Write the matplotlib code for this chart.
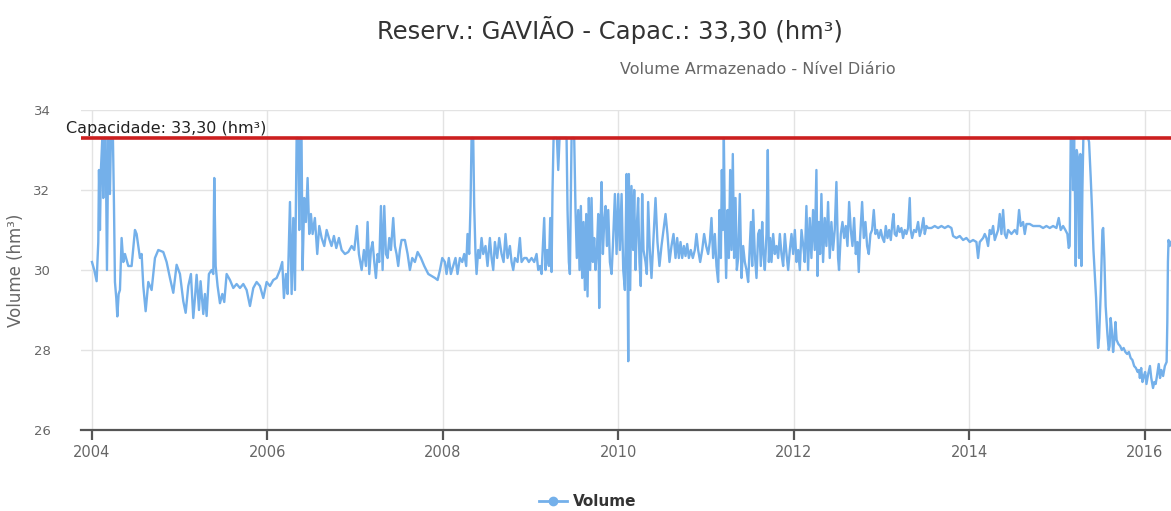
import matplotlib
matplotlib.use("Agg")
import matplotlib.pyplot as plt
from matplotlib.lines import Line2D
from matplotlib.transforms import blended_transform_factory

# Reservoir daily stored volume (decimal year, hm³)
anos = [
    # 2004 - 2005
    2004.000, 2004.026, 2004.053, 2004.072, 2004.080, 2004.091, 2004.102, 2004.118,
    2004.129, 2004.140, 2004.156, 2004.171, 2004.186, 2004.205, 2004.216, 2004.239,
    2004.251, 2004.262, 2004.277, 2004.289, 2004.304, 2004.319, 2004.338, 2004.357,
    2004.376, 2004.414, 2004.452, 2004.490, 2004.509, 2004.547, 2004.566, 2004.585,
    2004.612, 2004.642, 2004.680, 2004.718, 2004.756, 2004.813, 2004.851, 2004.889,
    2004.927, 2004.965, 2005.003, 2005.041, 2005.068, 2005.098, 2005.128, 2005.155,
    2005.174, 2005.193, 2005.220, 2005.238, 2005.269, 2005.288, 2005.307, 2005.333,
    2005.364, 2005.383, 2005.394, 2005.410, 2005.432, 2005.459, 2005.486, 2005.508,
    2005.535, 2005.573, 2005.611, 2005.649, 2005.687, 2005.725, 2005.763, 2005.801,
    2005.839, 2005.877, 2005.915, 2005.953, 2005.991,
    # 2006 - 2007
    2006.029, 2006.067, 2006.105, 2006.143, 2006.169, 2006.188, 2006.211, 2006.230,
    2006.257, 2006.276, 2006.295, 2006.314, 2006.333, 2006.352, 2006.363, 2006.374,
    2006.389, 2006.401, 2006.420, 2006.439, 2006.458, 2006.477, 2006.496, 2006.515,
    2006.541, 2006.568, 2006.591, 2006.618, 2006.648, 2006.675, 2006.701, 2006.731,
    2006.758, 2006.785, 2006.815, 2006.846, 2006.884, 2006.922, 2006.960, 2006.990,
    2007.020, 2007.043, 2007.074, 2007.100, 2007.123, 2007.142, 2007.161, 2007.180,
    2007.199, 2007.218, 2007.237, 2007.256, 2007.275, 2007.294, 2007.313, 2007.332,
    2007.351, 2007.370, 2007.389, 2007.408, 2007.434, 2007.453, 2007.472, 2007.491,
    2007.510, 2007.529, 2007.567, 2007.598, 2007.624, 2007.651, 2007.681, 2007.712,
    2007.750, 2007.788, 2007.834, 2007.872, 2007.910, 2007.940, 2007.967, 2007.993,
    # 2008 - 2010
    2008.023, 2008.042, 2008.068, 2008.091, 2008.118, 2008.144, 2008.167, 2008.194,
    2008.221, 2008.243, 2008.266, 2008.281, 2008.300, 2008.315, 2008.327, 2008.346,
    2008.357, 2008.372, 2008.384, 2008.403, 2008.422, 2008.441, 2008.460, 2008.486,
    2008.509, 2008.536, 2008.555, 2008.574, 2008.593, 2008.619, 2008.642, 2008.669,
    2008.692, 2008.714, 2008.737, 2008.764, 2008.783, 2008.802, 2008.821, 2008.851,
    2008.878, 2008.897, 2008.927, 2008.954, 2008.980, 2009.011, 2009.041, 2009.068,
    2009.087, 2009.106, 2009.125, 2009.144, 2009.155, 2009.170, 2009.189, 2009.209,
    2009.224, 2009.239, 2009.250, 2009.262, 2009.277, 2009.300, 2009.315, 2009.330,
    2009.345, 2009.372, 2009.391, 2009.410, 2009.421, 2009.436, 2009.448, 2009.467,
    2009.486, 2009.497, 2009.512, 2009.527, 2009.543, 2009.558, 2009.573, 2009.588,
    2009.603, 2009.619, 2009.634, 2009.649, 2009.664, 2009.679, 2009.695, 2009.710,
    2009.725, 2009.740, 2009.756, 2009.771, 2009.782, 2009.794, 2009.809, 2009.824,
    2009.839, 2009.855, 2009.870, 2009.885, 2009.904, 2009.923, 2009.938, 2009.961,
    2009.980, 2009.999, 2010.018, 2010.037, 2010.056, 2010.075, 2010.094, 2010.105,
    2010.113,
    # 2010 - 2012
    2010.120, 2010.135, 2010.150, 2010.169, 2010.181, 2010.196, 2010.211, 2010.226,
    2010.241, 2010.256, 2010.272, 2010.287, 2010.310, 2010.325, 2010.340, 2010.359,
    2010.378, 2010.401, 2010.424, 2010.446, 2010.469, 2010.492, 2010.515, 2010.538,
    2010.560, 2010.583, 2010.606, 2010.629, 2010.652, 2010.671, 2010.690, 2010.709,
    2010.728, 2010.747, 2010.766, 2010.785, 2010.804, 2010.826, 2010.849, 2010.872,
    2010.891, 2010.910, 2010.933, 2010.956, 2010.978, 2011.001, 2011.024, 2011.043,
    2011.062, 2011.081, 2011.100, 2011.119, 2011.138, 2011.153, 2011.169, 2011.180,
    2011.191, 2011.203, 2011.214, 2011.229, 2011.245, 2011.260, 2011.275, 2011.290,
    2011.305, 2011.320, 2011.336, 2011.351, 2011.366, 2011.385, 2011.404, 2011.423,
    2011.442, 2011.461, 2011.480, 2011.499, 2011.511, 2011.526, 2011.537, 2011.556,
    2011.575, 2011.594, 2011.609, 2011.624, 2011.640, 2011.655, 2011.670, 2011.689,
    2011.704, 2011.716, 2011.731, 2011.746, 2011.765, 2011.784, 2011.803, 2011.822,
    2011.841, 2011.860, 2011.879, 2011.898, 2011.917, 2011.936, 2011.955, 2011.974,
    2011.993, 2012.012, 2012.031, 2012.050, 2012.069, 2012.088, 2012.118,
    # 2012 - 2014
    2012.125, 2012.144, 2012.163, 2012.182, 2012.201, 2012.220, 2012.239, 2012.258,
    2012.270, 2012.285, 2012.300, 2012.315, 2012.334, 2012.353, 2012.372, 2012.391,
    2012.410, 2012.429, 2012.448, 2012.467, 2012.486, 2012.505, 2012.516, 2012.536,
    2012.555, 2012.574, 2012.593, 2012.612, 2012.631, 2012.650, 2012.669, 2012.688,
    2012.707, 2012.726, 2012.741, 2012.756, 2012.779, 2012.798, 2012.817, 2012.836,
    2012.855, 2012.874, 2012.893, 2012.912, 2012.931, 2012.950, 2012.969, 2012.992,
    2013.011, 2013.030, 2013.049, 2013.068, 2013.087, 2013.106, 2013.125, 2013.136,
    2013.151, 2013.170, 2013.189, 2013.208, 2013.227, 2013.246, 2013.265, 2013.284,
    2013.303, 2013.322, 2013.333, 2013.349, 2013.371, 2013.394, 2013.417, 2013.436,
    2013.455, 2013.478, 2013.493, 2013.512, 2013.531, 2013.569, 2013.607, 2013.645,
    2013.683, 2013.721, 2013.759, 2013.797, 2013.816, 2013.854, 2013.892, 2013.930,
    2013.968, 2014.006, 2014.044, 2014.082, 2014.101, 2014.120, 2014.158,
    # 2014 - 2016
    2014.177, 2014.196, 2014.215, 2014.234, 2014.253, 2014.272, 2014.291, 2014.329,
    2014.348, 2014.367, 2014.386, 2014.405, 2014.424, 2014.443, 2014.481, 2014.519,
    2014.545, 2014.568, 2014.587, 2014.614, 2014.633, 2014.652, 2014.690, 2014.728,
    2014.766, 2014.804, 2014.842, 2014.880, 2014.918, 2014.956, 2014.994, 2015.020,
    2015.043, 2015.070, 2015.096, 2015.119, 2015.134, 2015.145, 2015.157, 2015.172,
    2015.183, 2015.195, 2015.206, 2015.214, 2015.225, 2015.240, 2015.252, 2015.267,
    2015.279, 2015.290, 2015.301, 2015.317, 2015.336, 2015.355, 2015.366, 2015.385,
    2015.400, 2015.416, 2015.431, 2015.446, 2015.458, 2015.469, 2015.480, 2015.500,
    2015.518, 2015.527, 2015.540, 2015.555, 2015.575, 2015.590, 2015.600, 2015.612,
    2015.625, 2015.640, 2015.655, 2015.667, 2015.680, 2015.700, 2015.720, 2015.740,
    2015.760, 2015.780, 2015.800, 2015.820, 2015.840, 2015.860, 2015.880, 2015.900,
    2015.920, 2015.935, 2015.945, 2015.960, 2015.975, 2015.990, 2016.005, 2016.020,
    2016.040, 2016.060, 2016.075, 2016.095, 2016.110, 2016.125, 2016.140, 2016.160,
    2016.175, 2016.190, 2016.210, 2016.230, 2016.250, 2016.258, 2016.265, 2016.272,
    2016.285, 2016.300,
]

volume = [
    # 2004 - 2005
    30.2, 30.0, 29.72, 30.7, 32.5, 31.0, 32.5, 33.3,
    31.8, 33.3, 33.3, 30.0, 33.3, 31.9, 33.3, 33.3,
    31.6, 29.7, 29.3, 28.84, 29.4, 29.5, 30.8, 30.2,
    30.4, 30.1, 30.1, 31.0, 30.9, 30.3, 30.4, 29.6,
    28.97, 29.7, 29.5, 30.3, 30.5, 30.45, 30.2, 29.8,
    29.43, 30.13, 29.9, 29.22, 28.93, 29.6, 29.9, 28.8,
    29.3, 29.88, 29.0, 29.72, 28.9, 29.4, 28.85, 29.9,
    30.0, 29.9, 32.3, 30.1, 29.6, 29.17, 29.4, 29.2,
    29.9, 29.75, 29.55, 29.65, 29.55, 29.65, 29.5, 29.1,
    29.55, 29.7, 29.6, 29.3, 29.7,
    # 2006 - 2007
    29.6, 29.75, 29.8, 30.0, 30.2, 29.3, 29.9, 29.4,
    31.7, 29.4, 31.3, 29.5, 33.3, 33.3, 31.0, 33.3,
    33.3, 30.0, 31.8, 31.2, 32.3, 30.9, 31.4, 30.9,
    31.3, 30.4, 31.1, 30.8, 30.6, 31.0, 30.8, 30.6,
    30.85, 30.55, 30.8, 30.5, 30.4, 30.45, 30.6, 30.5,
    31.1, 30.4, 30.0, 30.5, 30.1, 31.2, 29.9, 30.5,
    30.7, 30.2, 29.8, 30.4, 30.2, 31.6, 30.0, 31.6,
    30.4, 30.3, 30.8, 30.5, 31.3, 30.6, 30.4, 30.1,
    30.5, 30.75, 30.75, 30.4, 30.0, 30.3, 30.2, 30.45,
    30.3, 30.1, 29.9, 29.85, 29.8, 29.75, 30.0, 30.3,
    # 2008 - 2010
    30.2, 29.9, 30.3, 29.9, 30.1, 30.3, 29.9, 30.3,
    30.2, 30.4, 30.1, 30.9, 30.4, 31.6, 33.3, 33.3,
    31.6, 30.4, 29.9, 30.5, 30.3, 30.8, 30.4, 30.6,
    30.1, 30.8, 30.3, 30.0, 30.7, 30.3, 30.8, 30.4,
    30.2, 30.9, 30.3, 30.6, 30.2, 30.0, 30.3, 30.2,
    30.8, 30.2, 30.3, 30.3, 30.2, 30.3, 30.2, 30.4,
    30.0, 30.1, 29.9, 30.8, 31.3, 30.0, 30.5, 30.1,
    31.3, 29.95, 32.0, 33.3, 33.3, 33.3, 32.5, 33.3,
    33.3, 33.3, 33.3, 33.3, 31.5, 30.2, 29.9, 33.3,
    33.3, 33.3, 31.5, 30.3, 31.5, 30.0, 31.6, 29.8,
    31.2, 29.5, 31.4, 29.34, 31.8, 30.0, 31.8, 30.2,
    30.8, 30.0, 30.5, 31.4, 29.05, 30.8, 32.2, 30.4,
    31.2, 31.6, 30.6, 31.5, 30.2, 29.9, 30.6, 31.9,
    30.4, 31.9, 30.5, 31.9, 30.0, 29.5, 32.4, 30.2,
    27.72,
    # 2010 - 2012
    32.4, 29.5, 32.1, 30.5, 32.0, 30.0, 31.1, 31.8,
    30.2, 29.6, 31.9, 30.5, 30.2, 29.9, 31.7, 30.5,
    29.8, 30.8, 31.8, 30.7, 30.1, 30.6, 31.0, 31.4,
    30.9, 30.2, 30.6, 30.9, 30.3, 30.8, 30.3, 30.7,
    30.3, 30.6, 30.35, 30.65, 30.3, 30.5, 30.3, 30.5,
    30.9, 30.5, 30.2, 30.5, 30.9, 30.6, 30.4, 30.7,
    31.3, 30.3, 30.9, 30.1, 29.7, 31.5, 30.3, 32.5,
    31.0, 33.3, 31.2, 29.8, 31.5, 30.3, 32.5, 30.5,
    32.9, 30.3, 31.8, 30.0, 30.3, 31.9, 29.8, 30.6,
    30.2, 30.0, 29.7, 30.6, 31.2, 30.1, 31.5, 30.4,
    29.8, 30.9, 31.0, 30.1, 31.2, 30.4, 30.0, 30.9,
    33.0, 30.2, 30.8, 30.2, 30.9, 30.4, 30.6, 30.3,
    30.9, 30.4, 30.1, 30.9, 30.4, 30.0, 30.5, 30.9,
    30.4, 31.0, 30.2, 30.5, 30.0, 31.0, 30.4,
    # 2012 - 2014
    30.2, 31.6, 30.0, 31.3, 30.3, 31.5, 30.5, 32.5,
    29.85, 31.2, 30.4, 31.9, 30.2, 31.3, 30.6, 31.7,
    30.3, 31.2, 30.5, 31.0, 32.2, 30.3, 30.0, 30.9,
    31.2, 30.8, 31.1, 30.6, 31.7, 31.0, 30.6, 31.3,
    30.4, 30.7, 29.95, 30.8, 31.7, 30.8, 31.2, 30.6,
    30.4, 30.9, 31.0, 31.5, 30.9, 31.0, 30.8, 31.0,
    30.8, 30.7, 31.1, 30.8, 31.0, 30.75, 31.2, 31.4,
    30.9, 30.85, 31.1, 30.95, 31.05, 30.8, 31.0, 30.9,
    31.05, 31.8, 31.0, 30.8, 31.0, 30.95, 31.2, 30.85,
    31.0, 31.3, 30.9, 31.1, 31.05, 31.05, 31.1, 31.05,
    31.1, 31.05, 31.1, 31.05, 30.85, 30.8, 30.85, 30.75,
    30.8, 30.7, 30.75, 30.7, 30.3, 30.7, 30.8,
    # 2014 - 2016
    30.9, 30.8, 30.6, 31.0, 30.9, 31.1, 30.75, 31.0,
    31.4, 30.9, 31.5, 30.9, 30.8, 31.0, 30.9, 31.0,
    30.9, 31.5, 31.1, 31.2, 30.9, 31.15, 31.15, 31.1,
    31.1, 31.1, 31.05, 31.1, 31.05, 31.1, 31.05, 31.3,
    31.0, 31.1, 31.0, 30.9, 30.55, 30.6, 33.3, 33.3,
    32.0, 33.3, 31.8, 30.1, 33.0, 32.8, 30.3, 32.9,
    30.1, 32.0, 33.3, 33.3, 33.3, 33.3, 33.2, 32.3,
    31.5, 30.5, 29.9, 29.3, 28.6, 28.05, 28.3, 29.5,
    31.0, 31.05, 30.3, 29.1, 28.4, 28.0, 28.1, 28.8,
    28.5, 27.95, 28.3, 28.7, 28.25, 28.15, 28.1, 28.0,
    28.05, 27.95, 27.9, 27.95, 27.8, 27.75, 27.6, 27.55,
    27.45, 27.5, 27.3, 27.55, 27.2, 27.35, 27.45, 27.15,
    27.4, 27.6, 27.3, 27.05, 27.2, 27.15, 27.35, 27.65,
    27.3, 27.5, 27.35, 27.6, 27.7, 28.7, 30.2, 30.75,
    30.6, 30.7,
]

capacidade = 33.30
anos_ticks = [2004, 2006, 2008, 2010, 2012, 2014, 2016]
volume_ticks = [26, 28, 30, 32, 34]

titulo = "Reserv.: GAVIÃO - Capac.: 33,30 (hm³)"
subtitulo = "Volume Armazenado - Nível Diário"
rotulo_cap = "Capacidade: 33,30 (hm³)"
rotulo_y = "Volume (hm³)"
serie = "Volume"

W, H = 1171, 511
fig = plt.figure(figsize=(W / 100, H / 100), dpi=100)
fig.patch.set_facecolor("white")

ax = fig.add_axes([81 / W, 81 / H, (W - 81) / W, 320 / H])
ax.set_facecolor("white")

cor_serie = "#74b0ea"
ax.plot(anos, volume, color=cor_serie, lw=1.7, solid_joinstyle="round", zorder=3)

ax.axhline(capacidade, color="#cc1f1f", lw=2.6, zorder=4)
trans = blended_transform_factory(ax.transAxes, ax.transData)
ax.text(-0.014, capacidade + 0.06, rotulo_cap, transform=trans, ha="left",
        va="bottom", fontsize=11.5, color="#222222", zorder=5, clip_on=False)

ax.set_xlim(2003.875, 2016.30)
ax.set_ylim(26, 34)
ax.set_xticks(anos_ticks)
ax.set_xticklabels([str(a) for a in anos_ticks])
ax.set_yticks(volume_ticks)

ax.grid(True, color="#e3e3e3", lw=1, zorder=0)
ax.set_axisbelow(True)
for s in ("top", "right", "left"):
    ax.spines[s].set_visible(False)
ax.spines["bottom"].set_color("#555555")
ax.spines["bottom"].set_linewidth(1.6)

ax.tick_params(axis="y", length=0, pad=22, labelsize=9.5, labelcolor="#666666")
ax.tick_params(axis="x", length=7, width=1.6, color="#555555", pad=4,
               labelsize=10.5, labelcolor="#666666")

ax.set_ylabel(rotulo_y, color="#666666", fontsize=12, labelpad=6)

fig.text(610 / W, 1 - 30 / H, titulo, ha="center", va="center",
         fontsize=17.5, color="#333333")
fig.text(758 / W, 1 - 70 / H, subtitulo, ha="center", va="center",
         fontsize=11.5, color="#666666")

handle = Line2D([], [], color=cor_serie, lw=2, marker="o", markersize=6,
                markerfacecolor=cor_serie, markeredgecolor=cor_serie)
leg = fig.legend([handle], [serie], loc="center",
                 bbox_to_anchor=(588 / W, 1 - 502 / H), frameon=False,
                 handlelength=1.8, handletextpad=0.4,
                 prop={"weight": "bold", "size": 11})
for t in leg.get_texts():
    t.set_color("#333333")

fig.savefig("out.png", dpi=100, facecolor="white")
